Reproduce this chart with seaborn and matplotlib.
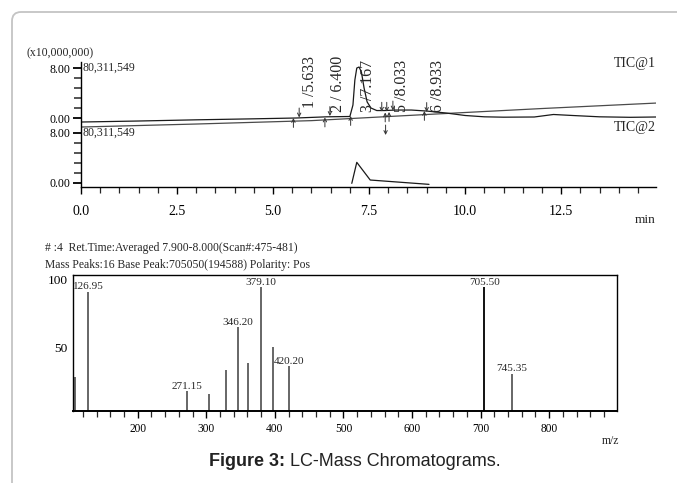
import numpy as np
import pandas as pd
import seaborn as sns
import matplotlib.pyplot as plt
from matplotlib.patches import FancyBboxPatch
from matplotlib.ticker import MultipleLocator, FixedLocator, FormatStrFormatter

# ---- chromatogram data (intensity in x10,000,000) ----
tic1_time = [0.0, 1.5, 3.0, 4.5, 5.6, 6.4, 7.0, 7.08, 7.13, 7.18, 7.24, 7.3, 7.37, 7.45,
             7.55, 7.7, 7.9, 8.2, 8.6, 9.0, 9.5, 10.0, 10.5, 11.0, 11.8, 12.3, 12.8,
             13.5, 14.3, 14.97]
tic1_int = [-0.59, -0.43, -0.24, -0.08, 0.05, 0.24, 0.29, 2.12, 6.11, 8.02, 8.18, 7.39,
            4.83, 2.60, 1.64, 1.24, 1.24, 1.32, 1.32, 1.16, 0.85, 0.45, 0.24, 0.18, 0.21,
            0.61, 0.45, 0.24, 0.16, 0.21]
drift_time = [0.0, 3.0, 6.0, 9.0, 12.0, 15.0]
drift_int = [8.88, 9.36, 9.90, 10.88, 11.83, 12.71]
tic2_time = [7.05, 7.18, 7.53, 9.06]
tic2_int = [-0.10, 3.25, 0.43, -0.26]

peak_labels = ["1 /5.633", "2 / 6.400", "3 /7.167", "5 /8.033", "6 /8.933"]
down_arrow_t = [5.68, 6.48, 7.83, 7.96, 8.12, 9.0]
down_arrow_tip = [10.41, 10.64, 11.32, 11.32, 11.52, 11.28]
up_arrow_t = [5.53, 6.35, 7.02, 7.92, 8.02, 8.94]
up_arrow_tip = [10.32, 10.40, 10.64, 11.20, 11.28, 11.44]

# ---- mass spectrum data ----
mz = [109.0, 126.95, 271.15, 303.9, 328.7, 346.20, 361.0, 379.10, 396.8, 420.20, 705.50, 745.35]
rel_int = [25.2, 87.9, 14.9, 12.9, 30.1, 62.0, 35.7, 91.4, 47.3, 33.3, 91.4, 27.6]
labelled_mz = ["126.95", "271.15", "346.20", "379.10", "420.20", "705.50", "745.35"]

W, H = 677, 483
CH1_OFF = 10.27  # vertical offset of TIC@1 on the stacked axis


def fx(x):
    return x / W


def fy(y):
    return 1 - y / H


sns.set_theme(style="ticks")
plt.rcParams['font.family'] = ['Liberation Serif', 'DejaVu Serif']

fig = plt.figure(figsize=(W / 100, H / 100), dpi=100)

# card border
bg = fig.add_axes([0, 0, 1, 1], zorder=-5)
bg.set_xlim(0, W)
bg.set_ylim(H, 0)
bg.axis('off')
bg.add_patch(FancyBboxPatch((12, 12), W + 40, H + 40, boxstyle="round,pad=0,rounding_size=9",
                            fc='white', ec='#c4c4c4', lw=1.3))

# ---- top: chromatogram ----
ax1 = fig.add_axes([fx(81), fy(187.3), fx(656 - 81), (187.3 - 62) / H])
ax1.set_facecolor('none')
df1 = pd.DataFrame({'t': tic1_time, 'v': np.array(tic1_int) + CH1_OFF})
df_d = pd.DataFrame({'t': drift_time, 'v': drift_int})
df2 = pd.DataFrame({'t': tic2_time, 'v': tic2_int})
sns.lineplot(data=df_d, x='t', y='v', ax=ax1, color='#4a4a4a', lw=0.9, sort=False, estimator=None)
sns.lineplot(data=df1, x='t', y='v', ax=ax1, color='#1a1a1a', lw=0.9, sort=False, estimator=None)
sns.lineplot(data=df2, x='t', y='v', ax=ax1, color='#1a1a1a', lw=0.9, sort=False, estimator=None)

ax1.set_xlim(0, 14.97)
ax1.set_ylim(-0.73, 19.25)
ax1.set_xlabel('')
ax1.set_ylabel('')
for s in ['top', 'right']:
    ax1.spines[s].set_visible(False)
for s in ['left', 'bottom']:
    ax1.spines[s].set_linewidth(1.0)
    ax1.spines[s].set_color('black')

ax1.xaxis.set_major_locator(MultipleLocator(2.5))
ax1.xaxis.set_minor_locator(MultipleLocator(0.5))
ax1.xaxis.set_major_formatter(FormatStrFormatter('%.1f'))
yt = [0, 8, CH1_OFF, CH1_OFF + 8]
ax1.yaxis.set_major_locator(FixedLocator(yt))
ax1.set_yticklabels(['0.00', '8.00', '0.00', '8.00'])
minor_y = list(np.arange(0, 8.01, 1.6)) + list(np.arange(0, 8.01, 1.6) + CH1_OFF)
ax1.yaxis.set_minor_locator(FixedLocator(minor_y))
ax1.tick_params(axis='x', which='major', length=5, width=1, pad=8, labelsize=10, colors='black')
ax1.tick_params(axis='x', which='minor', length=4, width=0.9)
ax1.tick_params(axis='y', which='major', length=6, width=1.3, pad=1.5, labelsize=8.5, colors='black')
ax1.tick_params(axis='y', which='minor', length=5, width=1.1)

for yv in [8, CH1_OFF + 8]:
    ax1.text(0.04, yv, '80,311,549', fontsize=8.5, ha='left', va='center')

# peak markers
arrow_style = dict(arrowstyle='->', lw=0.7, color='#333', shrinkA=0, shrinkB=0, mutation_scale=6)
for t, tip in zip(down_arrow_t, down_arrow_tip):
    ax1.annotate('', xy=(t, tip), xytext=(t, tip + 1.5), arrowprops=arrow_style)
for t, tip in zip(up_arrow_t, up_arrow_tip):
    ax1.annotate('', xy=(t, tip), xytext=(t, tip - 1.5), arrowprops=arrow_style)
ax1.annotate('', xy=(7.93, 7.61), xytext=(7.93, 9.2), arrowprops=arrow_style)

label_t = [5.95, 6.70, 7.48, 8.35, 9.30]
label_base = [11.91, 11.32, 11.32, 11.32, 11.32]
for t, b, lab in zip(label_t, label_base, peak_labels):
    ax1.text(t, b, lab, rotation=90, ha='center', va='bottom', fontsize=11.5)

fig.text(fx(60), fy(53), '(x10,000,000)', fontsize=8.5, ha='center', va='center')
fig.text(fx(656), fy(63), 'TIC@1', fontsize=10, ha='right', va='center')
fig.text(fx(656), fy(128), 'TIC@2', fontsize=10, ha='right', va='center')
fig.text(fx(656), fy(220), 'min', fontsize=9.6, ha='right', va='center')

# ---- bottom: mass spectrum ----
ax2 = fig.add_axes([fx(73), fy(411.3), fx(617 - 73), (411.3 - 275.3) / H])
ax2.set_facecolor('none')
bar_colors = ['#111111' if m == 705.50 else '#666666' for m in mz]
ax2.vlines(mz, 0, rel_int, colors=bar_colors, lw=1.4)
for m, v in zip(mz, rel_int):
    lab = f'{m:.2f}'
    if lab in labelled_mz:
        ax2.text(m, v + 0.3, lab, ha='center', va='bottom', fontsize=8.1)

ax2.set_xlim(105.5, 899)
ax2.set_ylim(0, 100)
for s in ax2.spines.values():
    s.set_linewidth(1.0)
    s.set_color('black')
ax2.spines['bottom'].set_linewidth(1.4)
ax2.xaxis.set_major_locator(MultipleLocator(100))
ax2.xaxis.set_minor_locator(MultipleLocator(20))
ax2.set_yticks([50, 100])
ax2.set_yticklabels(['50', '100'])
for lab in ax2.get_yticklabels():
    lab.set_va('top')
ax2.tick_params(axis='y', length=0, pad=4, labelsize=9.6, colors='black')
ax2.tick_params(axis='x', which='major', length=5, width=1, pad=3.5, labelsize=8.3, colors='black')
ax2.tick_params(axis='x', which='minor', length=4, width=0.9)

fig.text(fx(45), fy(248.3), '# :4  Ret.Time:Averaged 7.900-8.000(Scan#:475-481)', fontsize=8.4,
         ha='left', va='center')
fig.text(fx(45), fy(265), 'Mass Peaks:16 Base Peak:705050(194588) Polarity: Pos', fontsize=8.4,
         ha='left', va='center')
fig.text(fx(619), fy(441), 'm/z', fontsize=8.5, ha='right', va='center')

# caption
fig.text(fx(285), fy(461), 'Figure 3:', fontsize=13, fontweight='bold', ha='right', va='center',
         family=['Liberation Sans', 'DejaVu Sans'], color='#222')
fig.text(fx(285), fy(461), ' LC-Mass Chromatograms.', fontsize=13, ha='left', va='center',
         family=['Liberation Sans', 'DejaVu Sans'], color='#222')

fig.savefig('out.png', dpi=100)
